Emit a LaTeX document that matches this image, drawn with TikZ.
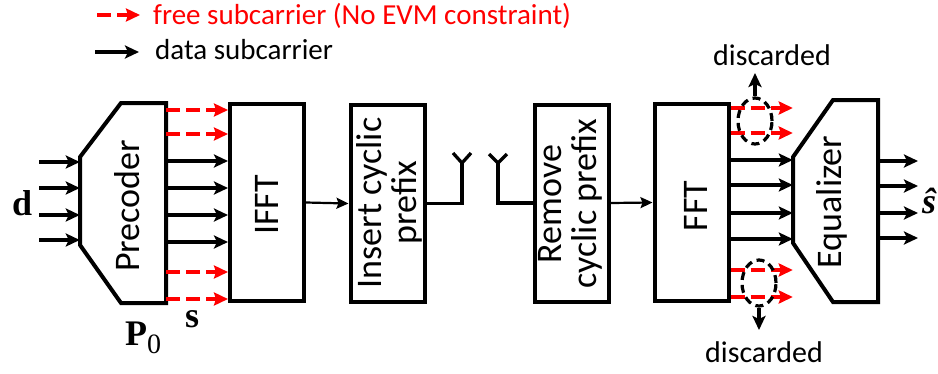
\documentclass[tikz,border=0pt]{standalone}
\usepackage{fontspec}
\usepackage{graphicx}
\setmainfont{Carlito}
\newfontfamily\serf{Liberation Serif}
\usetikzlibrary{arrows.meta,shapes.geometric}
\begin{document}
\begin{tikzpicture}[x=1pt,y=-1pt,
  blk/.style={draw, line width=4pt, minimum width=74pt, minimum height=197pt, inner sep=0pt},
  ghost/.style={inner sep=0pt},
  lbl/.style={rotate=90, font=\fontsize{36}{35}\selectfont, align=center, inner sep=0pt},
  txt/.style={inner sep=0pt, anchor=base west, font=\fontsize{29}{29}\selectfont},
  disc/.style={inner sep=0pt, anchor=base, font=\fontsize{30}{30}\selectfont},
  sym/.style={inner sep=0pt, anchor=base west, font=\serf\bfseries\fontsize{36}{36}\selectfont},
  data/.style={line width=3.4pt, -{Stealth[length=14pt,width=13pt,inset=3pt]}},
  free/.style={red, line width=3.8pt, dash pattern=on 14pt off 6pt, -{Stealth[length=14pt,width=13pt,inset=2pt]}},
  thinarr/.style={line width=2.2pt, -{Stealth[length=12pt,width=11pt,inset=2pt]}},
  wire/.style={line width=3.3pt},
  oval/.style={draw, ellipse, dash pattern=on 8pt off 5pt, line width=3.2pt, minimum width=34pt, minimum height=46pt, inner sep=0pt},
]
\useasboundingbox (0,0) rectangle (938,373);

% legend
\coordinate (lf1) at (97,15);  \coordinate (lf2) at (140,15);
\coordinate (ld1) at (95,52);  \coordinate (ld2) at (139,52);
\draw[free] (lf1) -- (lf2);
\draw[data] (ld1) -- (ld2);
\node[txt, text=red] (legfree) at (153,24) {free subcarrier (No EVM constraint)};
\node[txt] (legdata) at (155,59) {data subcarrier};

% precoder
\node[ghost, minimum width=86pt, minimum height=200pt] (pre) at (123,203) {};
\draw[line width=4pt, line join=miter] (121,103) -- (166,103) -- (166,303) -- (121,303) -- (80,245) -- (80,157) -- cycle;
\node[lbl] (prelbl) at (127,206) {Precoder};

% blocks
\node[blk] (ifft) at (267,202.5) {};
\node[lbl] (ifftlbl) at (267,205) {IFFT};
\node[blk] (ins) at (387.5,203.5) {};
\node[lbl] (inslbl) at (389,203) {Insert cyclic\\prefix};
\node[blk] (rem) at (571.5,203) {};
\node[lbl] (remlbl) at (570,204) {Remove\\cyclic prefix};
\node[blk] (fft) at (691.5,202.5) {};
\node[lbl] (fftlbl) at (696,206) {FFT};

% equalizer
\node[ghost, minimum width=85pt, minimum height=202pt] (eq) at (835.5,201) {};
\draw[line width=4pt, line join=miter] (833,100) -- (878,100) -- (878,302) -- (833,302) -- (793,243) -- (793,157) -- cycle;
\node[lbl] (eqlbl) at (832,202) {Equalizer};

% inputs d
\foreach \y in {162,188,215,240} \draw[data] (39,\y) -- (pre.west |- 0,\y);
\node[sym] (dlbl) at (12,215) {d};

% precoder -> IFFT
\foreach \y in {110,134,272,299} \draw[free] (pre.east |- 0,\y) -- (ifft.west |- 0,\y);
\foreach \y in {161,188,215,242} \draw[data] (pre.east |- 0,\y) -- (ifft.west |- 0,\y);
\node[sym] (slbl) at (185,327) {s};
\node[sym] (plbl) at (125,345) {P\raisebox{-8pt}{\mdseries\fontsize{28}{28}\selectfont 0}};

% IFFT -> insert
\draw[thinarr] (ifft.east) -- (ins.west);

% antennas
\coordinate (ant1) at (462,163);
\coordinate (ant2) at (498,163);
\draw[wire] (ins.east) -| (ant1);
\draw[wire] (453,153) -- (ant1) -- (471,153);
\draw[wire] (rem.west) -| (ant2);
\draw[wire] (489,154) -- (ant2) -- (507,154);

% remove -> FFT
\draw[thinarr] (rem.east) -- (fft.west);

% FFT -> equalizer
\foreach \y in {108,133,270,297} \draw[free] (fft.east |- 0,\y) -- (eq.west |- 0,\y);
\foreach \y in {160,185,213,239} \draw[data] (fft.east |- 0,\y) -- (eq.west |- 0,\y);

% equalizer outputs
\foreach \y in {161,186,213,238} \draw[data] (eq.east |- 0,\y) -- (918,\y);
\node[sym, font=\serf\bfseries\itshape\fontsize{36}{36}\selectfont] (shat) at (922,213) {ŝ};

% discarded
\node[oval] (e1) at (755,121) {};
\node[oval] (e2) at (759,283) {};
\node[disc] (dis1) at (772,65) {discarded};
\node[disc] (dis2) at (764,362) {discarded};
\draw[data] (e1.north) -- (e1.north |- 0,73);
\draw[data] (e2.south) -- (e2.south |- 0,330);
\end{tikzpicture}
\end{document}
